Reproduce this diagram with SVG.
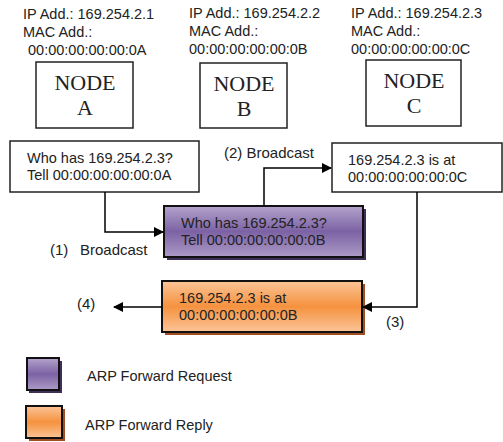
<svg xmlns="http://www.w3.org/2000/svg" width="503" height="442" viewBox="0 0 503 442">
<defs>
<linearGradient id="gp" x1="0" y1="0" x2="0" y2="1">
<stop offset="0" stop-color="#b4a3cc"/><stop offset="0.5" stop-color="#7c62a4"/><stop offset="1" stop-color="#ad9bc7"/>
</linearGradient>
<linearGradient id="go" x1="0" y1="0" x2="0" y2="1">
<stop offset="0" stop-color="#fbc497"/><stop offset="0.5" stop-color="#f5923f"/><stop offset="1" stop-color="#fbc497"/>
</linearGradient>
<marker id="ah" markerWidth="10" markerHeight="10" refX="9" refY="5" orient="auto" markerUnits="userSpaceOnUse">
<path d="M0,0 L10,5 L0,10 Z" fill="#000"/>
</marker>
</defs>
<style>
.t{font-family:"Liberation Sans",Arial,sans-serif;font-size:14.5px;fill:#222}
.n{font-family:"Liberation Serif","Times New Roman",serif;font-size:22px;fill:#222;text-anchor:middle}
.c{font-family:"Liberation Sans",Arial,sans-serif;font-size:15px;fill:#222}
.box{fill:#fff;stroke:#222;stroke-width:1.5}
.ln{fill:none;stroke:#000;stroke-width:1.5}
</style>

<g id="nodeA">
<text class="t" x="23" y="19">IP Add.: 169.254.2.1</text>
<text class="t" x="23" y="37">MAC Add.:</text>
<text class="t" x="28" y="55">00:00:00:00:00:0A</text>
<rect class="box" x="36" y="62" width="97" height="66"/>
<text class="n" x="85" y="90">NODE</text>
<text class="n" x="85" y="115">A</text>
</g>
<g id="nodeB">
<text class="t" x="189" y="18">IP Add.: 169.254.2.2</text>
<text class="t" x="189" y="36">MAC Add.:</text>
<text class="t" x="189" y="54">00:00:00:00:00:0B</text>
<rect class="box" x="200" y="63" width="87" height="65"/>
<text class="n" x="244" y="91">NODE</text>
<text class="n" x="244" y="116">B</text>
</g>
<g id="nodeC">
<text class="t" x="351" y="18">IP Add.: 169.254.2.3</text>
<text class="t" x="351" y="36">MAC Add.:</text>
<text class="t" x="351" y="54">00:00:00:00:00:0C</text>
<rect class="box" x="366" y="60" width="95" height="66"/>
<text class="n" x="414" y="88">NODE</text>
<text class="n" x="414" y="113">C</text>
</g>

<g id="reqA">
<rect class="box" x="10" y="141" width="189" height="51"/>
<text class="t" x="27" y="163">Who has 169.254.2.3?</text>
<text class="t" x="27" y="180">Tell 00:00:00:00:00:0A</text>
</g>
<g id="replyC">
<rect class="box" x="332" y="143" width="170" height="49"/>
<text class="t" x="348" y="165">169.254.2.3 is at</text>
<text class="t" x="348" y="182">00:00:00:00:00:0C</text>
</g>
<g id="reqB">
<rect x="167" y="209" width="199" height="51" fill="#3e2f56"/>
<rect x="164" y="206" width="199" height="51" fill="url(#gp)" stroke="#111" stroke-width="2"/>
<text class="t" x="181" y="228">Who has 169.254.2.3?</text>
<text class="t" x="181" y="245">Tell 00:00:00:00:00:0B</text>
</g>
<g id="replyB">
<rect x="165" y="284" width="200" height="51" fill="#a04e22"/>
<rect x="162" y="281" width="200" height="51" fill="url(#go)" stroke="#111" stroke-width="2"/>
<text class="t" x="179" y="303">169.254.2.3 is at</text>
<text class="t" x="179" y="320">00:00:00:00:00:0B</text>
</g>

<g id="connectors">
<polyline class="ln" points="105,192 105,232 163,232" marker-end="url(#ah)"/>
<polyline class="ln" points="264,206 264,168 331,168" marker-end="url(#ah)"/>
<polyline class="ln" points="417,192 417,307 363,307" marker-end="url(#ah)"/>
<line class="ln" x1="162" y1="307" x2="114" y2="307" marker-end="url(#ah)"/>
<text class="c" x="224" y="158">(2) Broadcast</text>
<text class="c" x="50" y="255">(1)<tspan x="80">Broadcast</tspan></text>
<text class="c" x="77" y="309">(4)</text>
<text class="c" x="386" y="327">(3)</text>
</g>

<g id="legend">
<rect x="29" y="361" width="33" height="32" fill="#3e2f56"/>
<rect x="27" y="358" width="32" height="32" fill="url(#gp)" stroke="#111" stroke-width="2"/>
<text class="t" x="87" y="381">ARP Forward Request</text>
<rect x="29" y="409" width="36" height="32" fill="#a04e22"/>
<rect x="26" y="406" width="36" height="32" fill="url(#go)" stroke="#111" stroke-width="2"/>
<text class="t" x="85" y="430">ARP Forward Reply</text>
</g>
</svg>
